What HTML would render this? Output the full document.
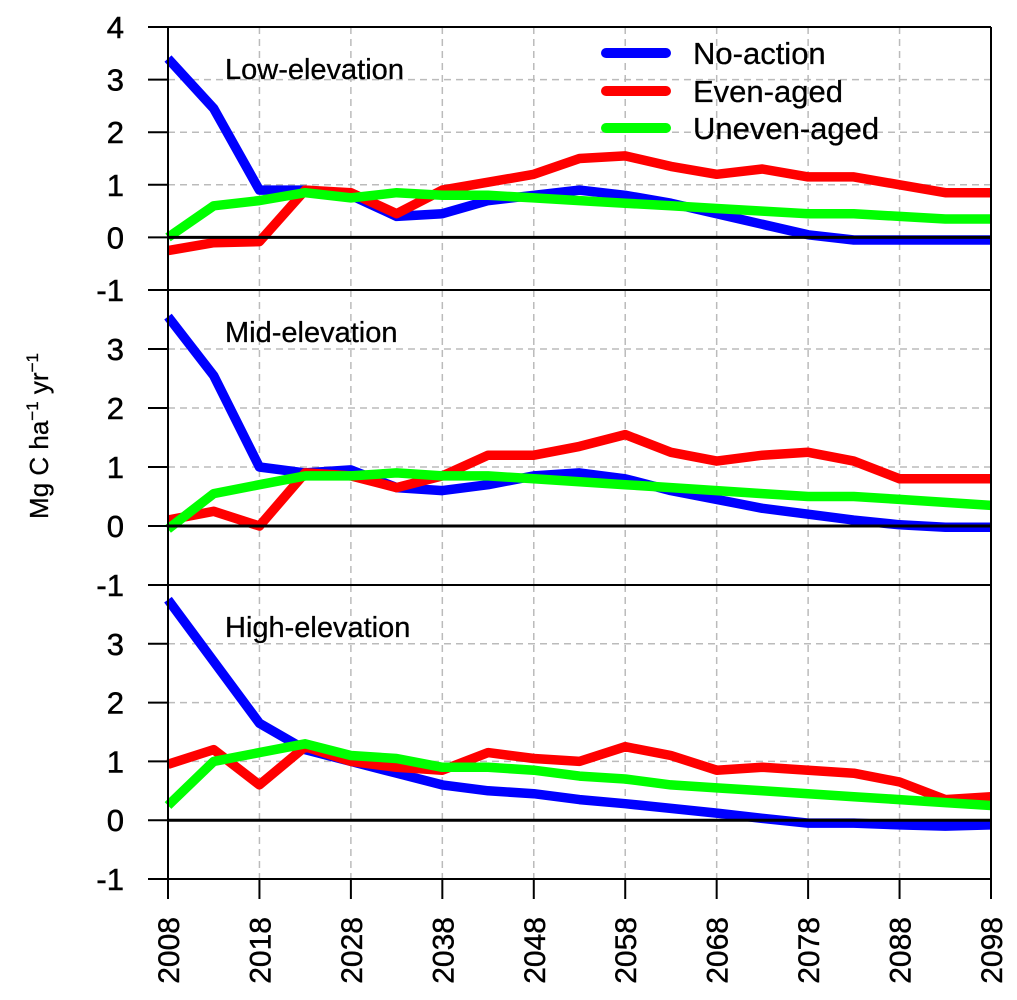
<!DOCTYPE html>
<html><head><meta charset="utf-8"><style>
html,body{margin:0;padding:0;background:#fff;}
svg{display:block;font-family:"Liberation Sans",sans-serif;}
</style></head><body>
<svg id="chart" width="1017" height="1000" viewBox="0 0 1017 1000" xmlns="http://www.w3.org/2000/svg">
<g id="grid"></g>
<g id="series"></g>
<g id="axes"></g>
<g id="legend"></g>
<text transform="translate(48,436) rotate(-90)" text-anchor="middle" font-size="26" stroke="#000" stroke-width="0.3">Mg C ha<tspan dy="-10" font-size="17">−1</tspan><tspan dy="10"> yr</tspan><tspan dy="-10" font-size="17">−1</tspan></text>
</svg>
<script>
const years = [2008,2013,2018,2023,2028,2033,2038,2043,2048,2053,2058,2063,2068,2073,2078,2083,2088,2093,2098];
const xTicks = [2008,2018,2028,2038,2048,2058,2068,2078,2088,2098];
const yTicks = [-1,0,1,2,3,4];
const panelNames = ["Low-elevation","Mid-elevation","High-elevation"];
const seriesNames = ["No-action","Even-aged","Uneven-aged"];
const seriesColors = ["#0000ff","#ff0000","#00ff00"];
const lowNoAction = [3.4,2.45,0.9,0.9,0.8,0.4,0.45,0.7,0.8,0.9,0.8,0.65,0.45,0.25,0.05,-0.05,-0.05,-0.05,-0.05];
const lowEven = [-0.25,-0.1,-0.08,0.9,0.85,0.45,0.9,1.05,1.2,1.5,1.55,1.35,1.2,1.3,1.15,1.15,1.0,0.85,0.85];
const lowUneven = [0,0.6,0.7,0.85,0.75,0.85,0.8,0.8,0.75,0.7,0.65,0.6,0.55,0.5,0.45,0.45,0.4,0.35,0.35];
const midNoAction = [3.55,2.55,1.0,0.9,0.95,0.65,0.6,0.7,0.85,0.9,0.8,0.6,0.45,0.3,0.2,0.1,0.02,-0.02,-0.02];
const midEven = [0.1,0.25,0.0,0.9,0.85,0.65,0.85,1.2,1.2,1.35,1.55,1.25,1.1,1.2,1.25,1.1,0.8,0.8,0.8];
const midUneven = [-0.05,0.55,0.7,0.85,0.85,0.9,0.85,0.85,0.8,0.75,0.7,0.65,0.6,0.55,0.5,0.5,0.45,0.4,0.35];
const highNoAction = [3.75,2.7,1.65,1.2,1.0,0.8,0.6,0.5,0.45,0.35,0.28,0.2,0.12,0.03,-0.05,-0.05,-0.08,-0.1,-0.08];
const highEven = [0.95,1.2,0.6,1.25,1.0,0.9,0.85,1.15,1.05,1.0,1.25,1.1,0.85,0.9,0.85,0.8,0.65,0.35,0.4];
const highUneven = [0.25,1.0,1.15,1.3,1.1,1.05,0.9,0.9,0.85,0.75,0.7,0.6,0.55,0.5,0.45,0.4,0.35,0.3,0.25];

const NS="http://www.w3.org/2000/svg";
const X0=168, X1=991;
const panels=[{top:27,bot:290,data:[lowNoAction,lowEven,lowUneven],labelY:79},
              {top:290,bot:585,data:[midNoAction,midEven,midUneven],labelY:342},
              {top:585,bot:879,data:[highNoAction,highEven,highUneven],labelY:637}];
function xs(yr){return X0+(yr-2008)/(2098-2008)*(X1-X0);}
function ysFor(p){return v=>p.bot-(v+1)/5*(p.bot-p.top);}
function mk(tag,attrs,parent){const e=document.createElementNS(NS,tag);for(const k in attrs)e.setAttribute(k,attrs[k]);parent.appendChild(e);return e;}
const grid=document.getElementById('grid'),ser=document.getElementById('series'),axes=document.getElementById('axes'),leg=document.getElementById('legend');

panels.forEach((p,pi)=>{
  const ys=ysFor(p);
  [1,2,3].forEach(v=>{
    const l=mk('line',{x1:X0,x2:X1,y1:ys(v),y2:ys(v),stroke:'#bbb','stroke-width':1.5,'stroke-dasharray':'7,5'},grid);
    
    
  });
  xTicks.slice(1,-1).forEach(t=>{
    const l=mk('line',{x1:xs(t),x2:xs(t),y1:p.top,y2:p.bot,stroke:'#bbb','stroke-width':1.5,'stroke-dasharray':'7,5'},grid);
    
    
  });
  p.data.forEach((arr,si)=>{
    const d=arr.map((v,i)=>(i?'L':'M')+xs(years[i]).toFixed(1)+','+ys(v).toFixed(1)).join(' ');
    const path=mk('path',{d:d,fill:'none',stroke:seriesColors[si],'stroke-width':9.5,'stroke-linejoin':'round'},ser);
    
    
  });
  const z=mk('line',{x1:X0,x2:X1,y1:ys(0),y2:ys(0),stroke:'#000','stroke-width':3},axes);
  
  
  yTicks.forEach(v=>{
    if(v===4 && pi>0) return;
    const tk=mk('line',{x1:148,x2:X0,y1:ys(v),y2:ys(v),stroke:'#000','stroke-width':2},axes);
    
    
    const t=mk('text',{x:124,y:ys(v)+11,'text-anchor':'end','font-size':31,stroke:'#000','stroke-width':0.5},axes);
    t.textContent=String(v);
    
    
  });
  const bl=mk('line',{x1:X0,x2:X1,y1:p.top,y2:p.top,stroke:'#000','stroke-width':2},axes);
  
  
  const pl=mk('text',{x:225,y:p.labelY,'font-size':29,stroke:'#000','stroke-width':0.3},axes);
  pl.textContent=panelNames[pi];
  
  
});
mk('line',{x1:X0,x2:X1,y1:879,y2:879,stroke:'#000','stroke-width':2},axes);
const la=mk('line',{x1:X0,x2:X0,y1:27,y2:899,stroke:'#000','stroke-width':2},axes);


const ra=mk('line',{x1:X1,x2:X1,y1:27,y2:899,stroke:'#000','stroke-width':2},axes);


xTicks.forEach(t=>{
  const tk=mk('line',{x1:xs(t),x2:xs(t),y1:879,y2:899,stroke:'#000','stroke-width':2},axes);
  
  
  const tx=mk('text',{transform:'translate('+(xs(t)+11)+',917) rotate(-90)','text-anchor':'end','font-size':30,stroke:'#000','stroke-width':0.4},axes);
  tx.textContent=String(t);
  
  
});
const legY=[53,91,128];
seriesNames.forEach((n,i)=>{
  const l=mk('line',{x1:606,x2:666,y1:legY[i],y2:legY[i],stroke:seriesColors[i],'stroke-width':10,'stroke-linecap':'round'},leg);
  
  
  const t=mk('text',{x:693,y:legY[i]+11,'font-size':31,stroke:'#000','stroke-width':0.3},leg);
  t.textContent=n;
  
  
});
</script>
</body></html>
